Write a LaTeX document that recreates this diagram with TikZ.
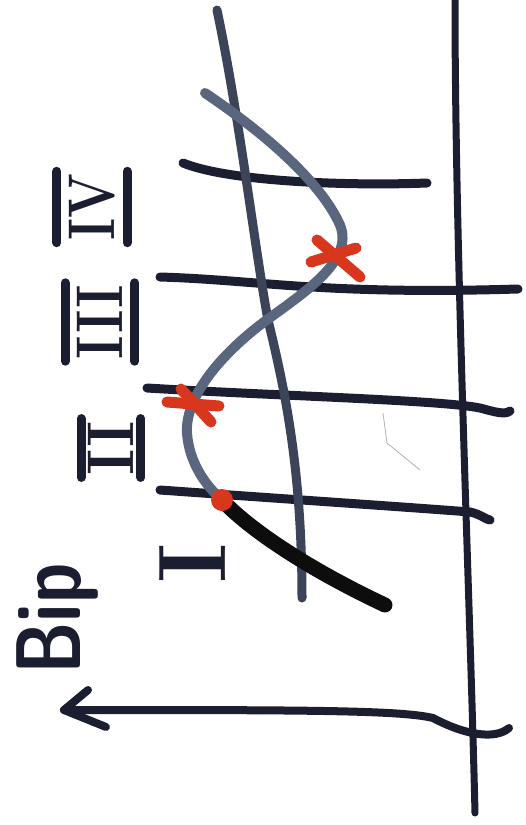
\documentclass[tikz,border=0pt]{standalone}
\usepackage{fontspec}
\setmainfont{Latin Modern Roman}
\definecolor{ink}{HTML}{1B1E30}
\definecolor{slate}{HTML}{3C4459}
\definecolor{grayblue}{HTML}{5A667E}
\definecolor{redmark}{HTML}{D8371E}
\begin{document}
\begin{tikzpicture}[x=1pt,y=-1pt,
  pen/.style={draw=ink,line width=8pt,line cap=round,line join=round},
  gridline/.style={pen,line width=9pt},
  curveA/.style={draw=slate,line width=9pt,line cap=round},
  curveB/.style={draw=grayblue,line width=10pt,line cap=round},
  thickpart/.style={draw=black!95,line width=15pt,line cap=round},
  crossmark/.style={draw=redmark,line width=11pt,line cap=round},
  numeral/.style={rotate=90,inner sep=0pt,text=ink,font=\bfseries\fontsize{66}{66}\selectfont},
  barred/.style={numeral,inner xsep=2pt,inner ysep=12pt},
  numbar/.style={draw=ink,line width=9pt,line cap=round},
]
\useasboundingbox (0,0) rectangle (526,825);
% axis
\coordinate (ax1) at (455,0);
\coordinate (ax2) at (475,813);
\draw[pen,line width=7pt] (ax1) .. controls (455,250) and (470,600) .. (ax2);
% grid lines
\draw[gridline] (183,163) .. controls (230,182) and (350,186) .. (427,183);
\draw[gridline] (160,277) .. controls (260,280) and (320,295) .. (518,289);
\draw[gridline] (147,388) .. controls (280,396) and (440,400) .. (480,408) .. controls (495,412) and (505,415) .. (510,411);
\draw[gridline] (160,490) .. controls (300,500) and (420,508) .. (470,512) .. controls (480,514) and (487,520) .. (490,520);
% curve A
\draw[curveA] (217,10) .. controls (240,120) and (255,250) .. (268,320) .. controls (285,390) and (302,470) .. (302,598);
% curve B
\draw[curveB] (205,93) .. controls (260,130) and (320,180) .. (340,225)
  .. controls (355,262) and (300,295) .. (260,325)
  .. controls (215,360) and (185,400) .. (187,433)
  .. controls (189,462) and (205,485) .. (222,500);
\draw[thickpart] (222,500) .. controls (245,525) and (300,565) .. (385,605);
% stray mark
\draw[gray!60,line width=0.8pt] (383,413) -- (387,443) -- (420,470);
% red marks
\draw[crossmark] (317,240) -- (360,277);
\draw[crossmark] (311,262) -- (356,248);
\draw[crossmark] (167,402) -- (219,406);
\draw[crossmark] (181,389) -- (211,422);
\fill[redmark] (222,500) circle (11);
% arrow
\coordinate (ar1) at (509,728);
\coordinate (ar2) at (64,710);
\draw[pen] (ar1) .. controls (495,740) and (465,735) .. (433,718)
  .. controls (400,710) and (300,710) .. (ar2);
\draw[pen] (88,690) -- (ar2) -- (106,727);
% labels
\node[numeral,font=\bfseries\sffamily\fontsize{92}{92}\selectfont] (bip) at (57,619) {\scalebox{0.78}[1]{Bip}};
\node[numeral,font=\bfseries\fontsize{96}{96}\selectfont] (n1) at (193,563) {I};
\node[barred,inner ysep=7pt] (n2) at (111,448) {\scalebox{0.95}[1]{II}};
\node[barred] (n3) at (100,322) {\scalebox{0.85}[1]{III}};
\node[barred] (n4) at (92,207) {\scalebox{0.8}[1]{IV}};
\foreach \n in {n2,n3,n4}{
  \draw[numbar] (\n.north west) -- (\n.north east);
  \draw[numbar] (\n.south west) -- (\n.south east);
}
\end{tikzpicture}
\end{document}
